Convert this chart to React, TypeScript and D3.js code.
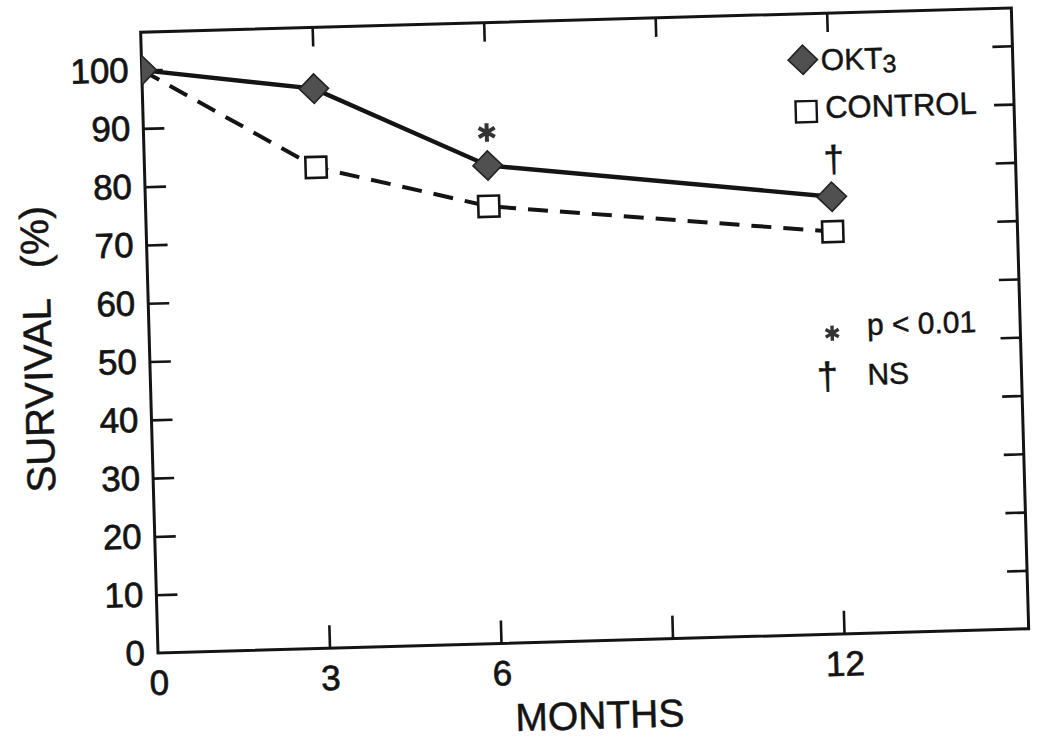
import React, { useRef, useEffect } from "react";
import * as d3 from "d3";

// data
const months = [0, 3, 6, 12];
const okt3Survival = [100, 96, 82, 75];
const controlSurvival = [100, 82.5, 75, 69];

const xTickMarks = [3, 6, 9, 12];
const xTickLabels = [0, 3, 6, 12];
const yTickMarks = [10, 20, 30, 40, 50, 60, 70, 80, 90, 100];
const yTickLabels = [0, 10, 20, 30, 40, 50, 60, 70, 80, 90, 100];

// significance marks sit over the OKT3 points
const sigMonths = [6, 12];
const sigSymbols = ["*", "\u2020"];

const ink = "#141414";
const font = "'Liberation Sans', Arial, Helvetica, sans-serif";

function SurvivalChart() {
  const d3Element = useRef<SVGSVGElement>(null);

  const renderD3 = () => {
    const svg = d3.select(d3Element.current);
    svg.selectAll("*").remove();

    const width = 1050;
    const height = 744;
    const margin = { top: 32, right: 21, bottom: 91, left: 158 };
    const x0 = margin.left;
    const x1 = width - margin.right;
    const yBottom = height - margin.bottom;
    const yTop = margin.top;

    // the scan is tilted a little, so the whole figure is turned
    const g = svg
      .append("g")
      .attr("transform", `rotate(-1.6,${x0},${yBottom})`);

    const xScale = d3.scaleLinear().domain([0, 15.23]).range([x0, x1]);
    const yScale = d3.scaleLinear().domain([0, 106.5]).range([yBottom, yTop]);

    g.append("defs")
      .append("clipPath")
      .attr("id", "plot-clip")
      .append("rect")
      .attr("x", x0)
      .attr("y", yTop)
      .attr("width", x1 - x0)
      .attr("height", yBottom - yTop);

    const styleTicks = (sel: any) => {
      sel.select(".domain").remove();
      sel.selectAll(".tick line").attr("stroke", ink).attr("stroke-width", 2.6);
    };
    const styleLabels = (sel: any, size: number) => {
      sel.select(".domain").remove();
      sel.selectAll(".tick line").remove();
      sel
        .selectAll("text")
        .attr("font-family", font)
        .attr("font-size", size)
        .attr("fill", ink)
        .attr("stroke", ink)
        .attr("stroke-width", 0.7);
    };

    // inward ticks on all four sides
    g.append("g")
      .attr("transform", `translate(0,${yBottom})`)
      .call(d3.axisBottom(xScale).tickValues(xTickMarks).tickSize(-23).tickFormat(() => ""))
      .call(styleTicks);
    g.append("g")
      .attr("transform", `translate(0,${yTop})`)
      .call(d3.axisTop(xScale).tickValues(xTickMarks).tickSize(-19).tickFormat(() => ""))
      .call(styleTicks);
    g.append("g")
      .attr("transform", `translate(${x0},0)`)
      .call(d3.axisLeft(yScale).tickValues(yTickMarks).tickSize(-21).tickFormat(() => ""))
      .call(styleTicks);
    g.append("g")
      .attr("transform", `translate(${x1},0)`)
      .call(d3.axisRight(yScale).tickValues(yTickMarks).tickSize(-20).tickFormat(() => ""))
      .call(styleTicks);

    // tick labels
    g.append("g")
      .attr("transform", `translate(0,${yBottom})`)
      .call(d3.axisBottom(xScale).tickValues(xTickLabels).tickSize(0).tickPadding(17).tickFormat(d3.format("d")))
      .call((s: any) => styleLabels(s, 35));
    g.append("g")
      .attr("transform", `translate(${x0},0)`)
      .call(d3.axisLeft(yScale).tickValues(yTickLabels).tickSize(0).tickPadding(13).tickFormat(d3.format("d")))
      .call((s: any) => styleLabels(s, 35));

    // frame
    g.append("rect")
      .attr("x", x0)
      .attr("y", yTop)
      .attr("width", x1 - x0)
      .attr("height", yBottom - yTop)
      .attr("fill", "none")
      .attr("stroke", ink)
      .attr("stroke-width", 3);

    const textAttrs = (sel: any, size: number) =>
      sel
        .attr("font-family", font)
        .attr("font-size", size)
        .attr("fill", ink)
        .attr("stroke", ink)
        .attr("stroke-width", 0.5);

    // axis titles
    g.append("text")
      .attr("x", 598)
      .attr("y", 741)
      .attr("text-anchor", "middle")
      .call((s: any) => textAttrs(s, 39))
      .text("MONTHS");

    const yTitle = g
      .append("text")
      .attr("transform", "translate(60,346) rotate(-90)")
      .attr("text-anchor", "middle")
      .call((s: any) => textAttrs(s, 40));
    yTitle.append("tspan").text("SURVIVAL");
    yTitle.append("tspan").attr("dx", 30).text("(%)");

    // series
    const okt3 = months.map((m, i) => [m, okt3Survival[i]] as [number, number]);
    const control = months.map((m, i) => [m, controlSurvival[i]] as [number, number]);

    const line = d3
      .line<[number, number]>()
      .x((d) => xScale(d[0]))
      .y((d) => yScale(d[1]));

    g.append("path")
      .datum(control)
      .attr("d", line)
      .attr("fill", "none")
      .attr("stroke", ink)
      .attr("stroke-width", 4)
      .attr("stroke-dasharray", "20,12");

    g.append("path")
      .datum(okt3)
      .attr("d", line)
      .attr("fill", "none")
      .attr("stroke", ink)
      .attr("stroke-width", 4.4);

    const squarePath = d3.symbol(d3.symbolSquare, 441)();
    const diamondPath = d3.symbol(d3.symbolSquare, 430)();

    const markers = g.append("g").attr("clip-path", "url(#plot-clip)");

    markers
      .selectAll("path.ctrl")
      .data(control.filter((d) => d[0] > 0))
      .enter()
      .append("path")
      .attr("class", "ctrl")
      .attr("d", squarePath)
      .attr("transform", (d) => `translate(${xScale(d[0])},${yScale(d[1])})`)
      .attr("fill", "#fff")
      .attr("stroke", ink)
      .attr("stroke-width", 2.6);

    markers
      .selectAll("path.okt")
      .data(okt3)
      .enter()
      .append("path")
      .attr("class", "okt")
      .attr("d", diamondPath)
      .attr("transform", (d) => `translate(${xScale(d[0])},${yScale(d[1])}) rotate(45)`)
      .attr("fill", "#505050")
      .attr("stroke", "#222")
      .attr("stroke-width", 1.6);

    // significance marks above OKT3 points
    const asteriskPath = d3.symbol(d3.symbolAsterisk, 240)();
    sigMonths.forEach((m, i) => {
      const idx = months.indexOf(m);
      const px = xScale(m);
      const py = yScale(okt3Survival[idx]);
      if (sigSymbols[i] === "*") {
        g.append("path")
          .attr("d", asteriskPath)
          .attr("transform", `translate(${px},${py - 33})`)
          .attr("fill", "none")
          .attr("stroke", "#333")
          .attr("stroke-width", 4);
      } else {
        g.append("text")
          .attr("x", px + 3)
          .attr("y", py - 36 + 11)
          .attr("text-anchor", "middle")
          .call((s: any) => textAttrs(s, 37))
          .text(sigSymbols[i]);
      }
    });

    // legend
    const lx = xScale(11.56);
    const rowOkt = yScale(98.6);
    const rowCtrl = yScale(89.7);

    g.append("path")
      .attr("d", diamondPath)
      .attr("transform", `translate(${lx},${rowOkt}) rotate(45)`)
      .attr("fill", "#505050")
      .attr("stroke", "#222")
      .attr("stroke-width", 1.6);
    const oktText = g
      .append("text")
      .attr("x", lx + 18)
      .attr("y", rowOkt + 11)
      .call((s: any) => textAttrs(s, 30));
    oktText.append("tspan").text("OKT");
    oktText.append("tspan").attr("dy", 4).attr("font-size", 25).text("3");

    g.append("path")
      .attr("d", squarePath)
      .attr("transform", `translate(${lx + 2},${rowCtrl})`)
      .attr("fill", "#fff")
      .attr("stroke", ink)
      .attr("stroke-width", 2.4);
    g.append("text")
      .attr("x", lx + 21)
      .attr("y", rowCtrl + 7)
      .call((s: any) => textAttrs(s, 31))
      .text("CONTROL");

    // significance key
    const kx = xScale(11.94);
    g.append("path")
      .attr("d", d3.symbol(d3.symbolAsterisk, 160)())
      .attr("transform", `translate(${kx},${yScale(51.6)})`)
      .attr("fill", "none")
      .attr("stroke", "#333")
      .attr("stroke-width", 3.4);
    g.append("text")
      .attr("x", kx + 35)
      .attr("y", yScale(51.1))
      .call((s: any) => textAttrs(s, 30))
      .text("p < 0.01");
    g.append("text")
      .attr("x", kx - 6)
      .attr("y", yScale(43.9) + 11)
      .attr("text-anchor", "middle")
      .call((s: any) => textAttrs(s, 38))
      .text("\u2020");
    g.append("text")
      .attr("x", kx + 34)
      .attr("y", yScale(42.6))
      .call((s: any) => textAttrs(s, 30))
      .text("NS");
  };

  useEffect(() => {
    renderD3();
  });

  return (
    <svg
      ref={d3Element}
      width="1050"
      height="744"
      style={{ position: "absolute", left: 0, top: 0, background: "#fff" }}
    ></svg>
  );
}

export default function App() {
  return <SurvivalChart />;
}
